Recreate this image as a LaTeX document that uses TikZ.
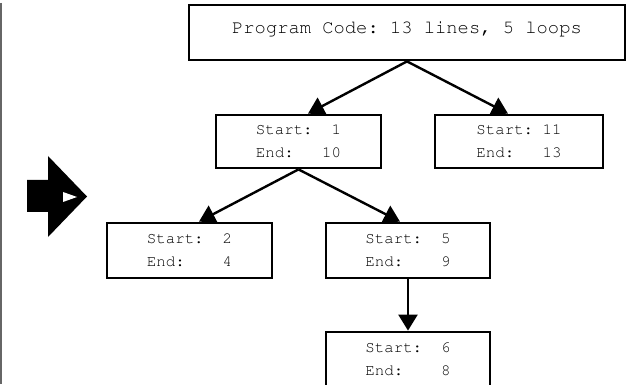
\documentclass[tikz,border=0pt]{standalone}
\usepackage[T1]{fontenc}
\newcommand{\codefont}{\fontencoding{T1}\fontfamily{pcr}\fontseries{m}\fontshape{n}\frenchspacing}
\usetikzlibrary{arrows.meta,calc}
\begin{document}
\begin{tikzpicture}[x=1pt,y=-1pt,
  box/.style={draw=black,line width=2.8pt,fill=white,inner sep=0pt,
    font=\codefont\fontsize{15.8}{23}\selectfont,align=center,
    minimum height=53pt},
  topbox/.style={draw=black,line width=2.8pt,fill=white,inner sep=0pt,
    font=\codefont\fontsize{18.8}{22}\selectfont,
    text height=3pt,text depth=0pt,
    minimum width=436pt,minimum height=55pt},
  conn/.style={draw=black,line width=2.4pt,-{Triangle[length=16pt,width=19pt]}},
  shiftarrow/.style={fill=black,draw=none}]
\useasboundingbox (0,0) rectangle (627,385);
\fill[white] (0,0) rectangle (627,385);
% left rule
\draw[line width=1.5pt,color=black!60] (1,3) -- (1,384);
% left arrow
\path[shiftarrow] (27,180) -- (48,180) -- (48,156) -- (87,196.5) -- (48,237) -- (48,212) -- (27,212) -- cycle;
\fill[white] (63,192) -- (77,197) -- (63,202) -- cycle;
% nodes
\node[topbox] (top) at (407,32.5) {Program Code: 13 lines, 5 loops};
\node[box,minimum width=165pt] (A) at (298.5,141.5) {Start:~~1\\End:~~~10};
\node[box,minimum width=168pt] (B) at (519,141.5) {Start:~11\\End:~~~13};
\node[box,minimum width=165pt,minimum height=55pt] (C) at (189.5,250.5) {Start:~~2\\End:~~~~4};
\node[box,minimum width=164pt,minimum height=55pt] (D) at (408,250.5) {Start:~~5\\End:~~~~9};
\node[box,minimum width=164pt,minimum height=55pt] (E) at (408,359.5) {Start:~~6\\End:~~~~8};
% connectors
\draw[conn] (top.south) -- ([xshift=9.5pt]A.north);
\draw[conn] (top.south) -- ([xshift=-11pt]B.north);
\draw[conn] (A.south) -- ([xshift=9.5pt]C.north);
\draw[conn] (A.south) -- ([xshift=-8pt]D.north);
\draw[conn] (D.south) -- (E.north);
\end{tikzpicture}
\end{document}
